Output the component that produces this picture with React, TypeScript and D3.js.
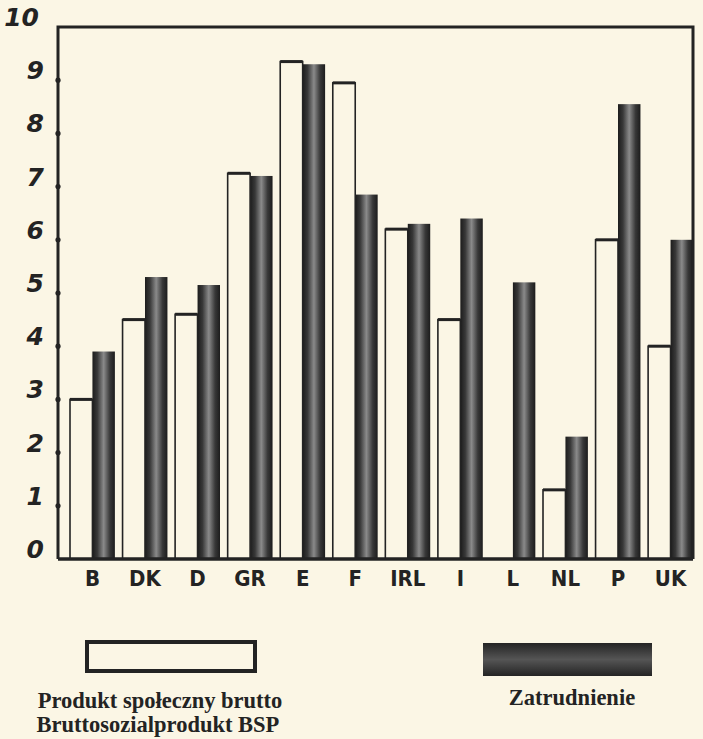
import React from "react";
import * as d3 from "d3";

const countries = ["B", "DK", "D", "GR", "E", "F", "IRL", "I", "L", "NL", "P", "UK"];
// Produkt społeczny brutto (null = no bar drawn)
const gnpValues = [3.0, 4.5, 4.6, 7.25, 9.35, 8.95, 6.2, 4.5, null, 1.3, 6.0, 4.0];
// Zatrudnienie
const employmentValues = [3.9, 5.3, 5.15, 7.2, 9.3, 6.85, 6.3, 6.4, 5.2, 2.3, 8.55, 6.0];
const yTicks = [0, 1, 2, 3, 4, 5, 6, 7, 8, 9, 10];

const seriesLabels = ["Produkt społeczny brutto", "Bruttosozialprodukt BSP", "Zatrudnienie"];

const width = 703;
const height = 739;
const paper = "#fbf6e5";
const ink = "#232323";

export default function App() {
  const left = 58;
  const right = 693;
  const bottom = 559;
  const top = 27;

  const y = d3.scaleLinear().domain([0, 10]).range([bottom, top]);
  const x = d3.scaleBand<string>().domain(countries).range([70, right]).paddingInner(0.146).paddingOuter(0);
  const bw = x.bandwidth() / 2;

  const handFont = "'DejaVu Sans', sans-serif";

  return (
    <svg
      width={width}
      height={height}
      style={{ position: "absolute", left: 0, top: 0, display: "block" }}
    >
      <defs>
        <linearGradient id="darkBar" x1="0" x2="1" y1="0" y2="0">
          <stop offset="0" stopColor="#1c1c1c" />
          <stop offset="0.22" stopColor="#383838" />
          <stop offset="0.5" stopColor="#8a8a8a" />
          <stop offset="0.78" stopColor="#383838" />
          <stop offset="1" stopColor="#1c1c1c" />
        </linearGradient>
        <linearGradient id="darkLegend" x1="0" x2="0" y1="0" y2="1">
          <stop offset="0" stopColor="#242424" />
          <stop offset="0.5" stopColor="#555" />
          <stop offset="1" stopColor="#242424" />
        </linearGradient>
      </defs>
      <rect width={width} height={height} fill={paper} />

      {/* employment bars (dark) */}
      {employmentValues.map((v, i) => (
        <rect
          key={"e" + i}
          x={(x(countries[i]) ?? 0) + bw}
          y={y(v)}
          width={bw}
          height={bottom - y(v)}
          fill="url(#darkBar)"
        />
      ))}

      {/* GNP bars (outlined) */}
      {gnpValues.map((v, i) =>
        v == null ? null : (
          <g key={"g" + i}>
            <rect
              x={x(countries[i]) ?? 0}
              y={y(v)}
              width={bw}
              height={bottom - y(v)}
              fill={paper}
              stroke={ink}
              strokeWidth={1.6}
            />
            <line
              x1={x(countries[i]) ?? 0}
              x2={(x(countries[i]) ?? 0) + bw}
              y1={y(v)}
              y2={y(v)}
              stroke={ink}
              strokeWidth={3}
            />
          </g>
        )
      )}

      {/* frame */}
      <path
        d={`M${left},${bottom} L${left},${top} L${right},${top} L${right},${bottom}`}
        fill="none"
        stroke={ink}
        strokeWidth={3}
      />
      <line x1={left} x2={right} y1={bottom} y2={bottom} stroke={ink} strokeWidth={3.5} />

      {/* y ticks and labels */}
      {yTicks.map((t) => (
        <g key={"t" + t}>
          {t > 0 && t < 10 && <circle cx={left} cy={y(t)} r={2.6} fill={ink} />}
          <text
            x={t === 10 ? 39 : 44}
            y={y(t) - 1}
            textAnchor="end"
            fontFamily={handFont}
            fontStyle="italic"
            fontWeight="bold"
            fontSize={25}
            fill={ink}
          >
            {t}
          </text>
        </g>
      ))}

      {/* category labels */}
      {countries.map((c) => (
        <text
          key={"c" + c}
          x={(x(c) ?? 0) + x.bandwidth() / 2}
          y={586}
          textAnchor="middle"
          fontFamily="'DejaVu Sans Condensed', 'DejaVu Sans', sans-serif"
          fontWeight="bold"
          fontSize={22}
          fill={ink}
        >
          {c}
        </text>
      ))}

      {/* legend */}
      <rect x={87} y={642} width={168} height={29} fill={paper} stroke={ink} strokeWidth={4} />
      <rect x={483} y={643} width={169} height={33} fill="url(#darkLegend)" />
      <g fontFamily="'Liberation Serif', serif" fontWeight="bold" fontSize={22.5} fill={ink} textAnchor="middle">
        <text x={160} y={708}>{seriesLabels[0]}</text>
        <text x={158} y={732}>{seriesLabels[1]}</text>
        <text x={572} y={705}>{seriesLabels[2]}</text>
      </g>
    </svg>
  );
}
